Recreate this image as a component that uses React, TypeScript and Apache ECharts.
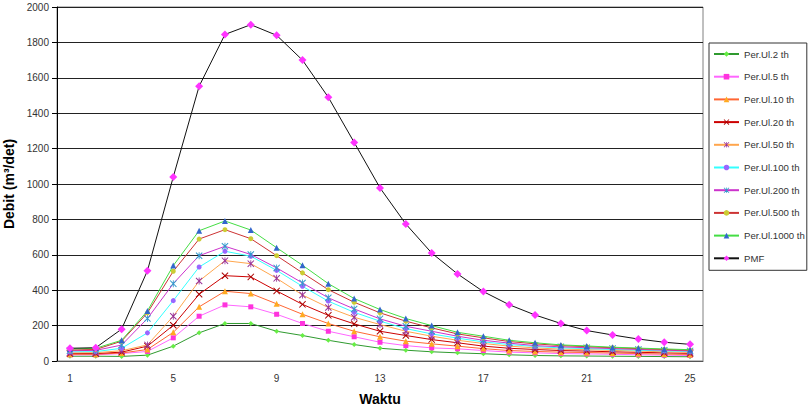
import React, { useEffect, useRef } from "react";
import * as echarts from "echarts";

const categories = ["1","2","3","4","5","6","7","8","9","10","11","12","13","14","15","16","17","18","19","20","21","22","23","24","25"];
const yTicks = { min: 0, max: 2000, interval: 200 };

const p2 = [27, 27, 26, 33, 84, 159, 212, 212, 168, 144, 117, 93, 72, 61, 52, 46, 41, 35, 31, 29, 28, 27, 26, 25, 24];
const p5 = [35, 35, 42, 54, 131, 253, 317, 306, 264, 212, 168, 137, 106, 87, 74, 69, 59, 50, 46, 42, 40, 38, 35, 33, 31];
const p10 = [38, 38, 45, 65, 162, 306, 394, 381, 323, 264, 212, 168, 137, 112, 97, 84, 70, 59, 54, 50, 48, 45, 42, 39, 37];
const p20 = [42, 42, 50, 84, 202, 377, 482, 475, 396, 320, 258, 210, 168, 144, 121, 103, 84, 72, 65, 59, 56, 52, 49, 46, 43];
const p50 = [46, 47, 58, 91, 253, 452, 567, 550, 467, 373, 302, 247, 206, 168, 140, 117, 99, 84, 74, 67, 64, 60, 56, 52, 49];
const p100 = [52, 53, 72, 159, 341, 531, 620, 592, 512, 422, 338, 275, 225, 183, 153, 129, 108, 93, 82, 74, 70, 65, 61, 57, 54];
const p200 = [58, 60, 90, 240, 437, 595, 648, 602, 526, 441, 357, 294, 238, 196, 168, 140, 117, 101, 87, 80, 75, 70, 65, 61, 57];
const p500 = [62, 65, 112, 272, 507, 689, 742, 691, 595, 498, 403, 332, 272, 225, 187, 153, 131, 110, 97, 87, 81, 75, 70, 65, 61];
const p1000 = [68, 72, 117, 283, 539, 736, 791, 740, 640, 541, 437, 353, 291, 240, 200, 162, 140, 117, 103, 91, 85, 78, 73, 68, 64];
const pmf = [72, 75, 180, 510, 1040, 1552, 1845, 1900, 1840, 1700, 1490, 1235, 978, 774, 610, 492, 392, 318, 260, 212, 172, 147, 124, 106, 94];

const seriesNames = ["Per.Ul.2 th", "Per.Ul.5 th", "Per.Ul.10 th", "Per.Ul.20 th", "Per.Ul.50 th", "Per.Ul.100 th", "Per.Ul.200 th", "Per.Ul.500 th", "Per.Ul.1000 th", "PMF"];
const seriesData = [p2, p5, p10, p20, p50, p100, p200, p500, p1000, pmf];

const X_SYM = "path://M0,1L1,0L5,4L9,0L10,1L6,5L10,9L9,10L5,6L1,10L0,9L4,5Z";
const STAR_SYM = "path://M0,1L1,0L5,4L9,0L10,1L6,5L10,9L9,10L5,6L1,10L0,9L4,5Z M4.4,0L5.6,0L5.6,10L4.4,10Z";

const styles = [
  { line: "#2f9a2f", mark: "#66ee44", symbol: "diamond", size: 5 },
  { line: "#ff66ff", mark: "#ff33dd", symbol: "rect", size: 5 },
  { line: "#ff6633", mark: "#ffaa22", symbol: "triangle", size: 6 },
  { line: "#cc0000", mark: "#aa0000", symbol: X_SYM, size: 7 },
  { line: "#ffa64d", mark: "#993399", symbol: STAR_SYM, size: 7 },
  { line: "#33ffff", mark: "#9966ff", symbol: "circle", size: 5 },
  { line: "#cc33cc", mark: "#3399cc", symbol: STAR_SYM, size: 7 },
  { line: "#cc3333", mark: "#cccc33", symbol: "circle", size: 5 },
  { line: "#44dd44", mark: "#3366cc", symbol: "triangle", size: 6 },
  { line: "#111111", mark: "#ff33ff", symbol: "diamond", size: 8 },
];

const FONT = "'Liberation Sans', Arial, sans-serif";

export default function App() {
  const ref = useRef<HTMLDivElement>(null);
  useEffect(() => {
    if (!ref.current) return;
    const chart = echarts.init(ref.current, undefined, { renderer: "svg" });
    chart.setOption({
      animation: false,
      backgroundColor: "#ffffff",
      textStyle: { fontFamily: FONT },
      grid: {
        left: 57, right: 109, top: 7, bottom: 47,
        outerBoundsMode: "none",
        containLabel: false,
        show: true, borderColor: "#808080", borderWidth: 1, backgroundColor: "#ffffff",
      },
      legend: {
        orient: "vertical",
        left: 709, top: 43,
        padding: [6, 2, 7, 4],
        itemWidth: 25, itemHeight: 7, itemGap: 12.7,
        borderColor: "#333333", borderWidth: 1,
        textStyle: { fontSize: 9.6, color: "#333333", fontFamily: FONT },
        data: seriesNames,
      },
      xAxis: {
        type: "category",
        data: categories,
        boundaryGap: true,
        name: "Waktu",
        nameLocation: "middle",
        nameGap: 31,
        nameTextStyle: { fontSize: 14, fontWeight: "bold", color: "#000", fontFamily: FONT },
        axisLine: { lineStyle: { color: "#555555", width: 1 } },
        axisTick: { interval: 4, length: 5, lineStyle: { color: "#555555" } },
        axisLabel: { interval: 3, margin: 12, fontSize: 10, color: "#333333", fontFamily: FONT },
        splitLine: { show: false },
      },
      yAxis: {
        type: "value",
        min: yTicks.min, max: yTicks.max, interval: yTicks.interval,
        name: "Debit (m³/det)",
        nameLocation: "middle",
        nameGap: 35,
        nameTextStyle: { fontSize: 14, fontWeight: "bold", color: "#000", fontFamily: FONT },
        axisLine: { show: true, lineStyle: { color: "#000000", width: 1 } },
        axisTick: { show: true, length: 5, lineStyle: { color: "#000000" } },
        axisLabel: { margin: 8, fontSize: 10, color: "#333333", fontFamily: FONT, formatter: (v: number) => String(v) },
        splitLine: { show: true, lineStyle: { color: "#222222", width: 1 } },
      },
      series: seriesData.map((d, i) => ({
        name: seriesNames[i],
        type: "line",
        data: d,
        symbol: styles[i].symbol,
        symbolSize: styles[i].size,
        showSymbol: true,
        lineStyle: { color: styles[i].line, width: 1 },
        itemStyle: { color: styles[i].mark, borderWidth: 0 },
        emphasis: { disabled: true },
        z: 2 + i,
      })),
    });
    return () => chart.dispose();
  }, []);
  return <div ref={ref} style={{ position: "fixed", left: 0, top: 0, width: 812, height: 408 }} />;
}
